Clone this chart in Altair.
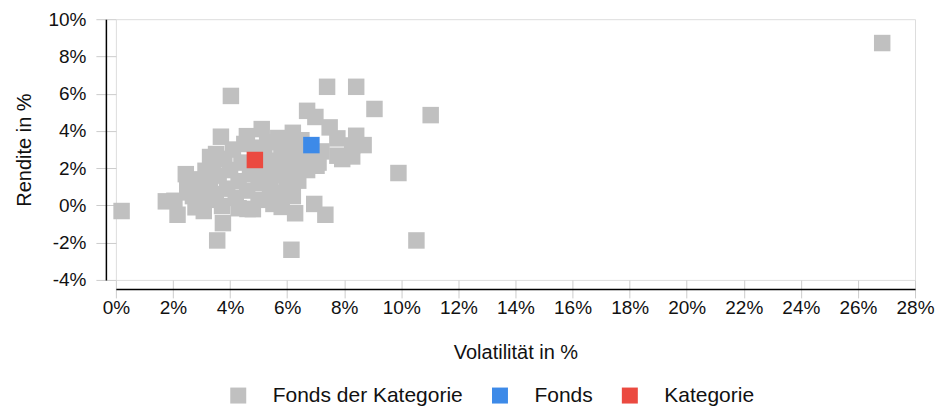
import altair as alt
import pandas as pd

# ---- data (values in %) ----
cat_vol = [26.85, 0.2, 1.75, 2.05, 2.16, 3.55, 3.75, 4.03, 6.15, 6.28,
           6.95, 7.34, 7.4, 8.42, 9.06, 11.03, 9.9, 10.53, 6.7, 6.99,
           7.49, 7.76, 8.42, 8.68, 8.28, 7.76, 7.93, 8.28, 7.03, 6.35,
           5.11, 3.68, 4.59, 5.69, 5.98, 3.51, 2.45, 3.14, 2.79, 3.08,
           3.72, 4.61, 5.52, 5.81, 6.39, 5.75, 2.6, 2.7, 2.9, 3.0,
           3.2, 3.3, 3.4, 3.5, 3.6, 3.8, 3.9, 4.0, 4.1, 4.2,
           4.3, 4.4, 4.5, 4.6, 4.7, 4.9, 5.0, 5.0, 5.1, 5.2,
           5.3, 5.4, 5.5, 5.6, 5.8, 5.9, 6.0, 6.1, 6.2, 6.3,
           6.5, 6.6, 6.7, 6.8, 7.1, 2.5, 2.5, 4.8, 4.3, 6.2,
           6.5, 6.4, 7.2, 5.3, 4.8, 3.3]
cat_ret = [8.72, -0.3, 0.22, 0.25, -0.5, -1.88, -0.95, 5.88, -2.38, -0.42,
           0.08, -0.5, 6.37, 6.37, 5.18, 4.85, 1.74, -1.88, 5.08, 4.75,
           4.19, 3.6, 3.74, 3.24, 3.22, 2.67, 2.49, 2.63, 2.13, 1.6,
           4.1, 3.69, 3.72, 3.62, 3.47, 2.76, 1.68, 1.86, -0.1, -0.3,
           -0.03, -0.19, 0.08, -0.08, 1.33, 0.7, 1.1, 0.5, 1.4, 0.8,
           0.3, 1.2, 2.1, 0.6, 1.6, 2.5, 0.9, 1.9, 3.0, 0.4,
           1.3, 2.3, 3.3, 0.8, 1.7, 3.1, 0.3, 1.2, 2.0, 2.8,
           3.4, 0.9, 1.6, 2.4, 3.0, 1.9, 1.1, 2.6, 0.5, 3.2,
           2.3, 2.9, 1.9, 2.5, 2.3, 0.7, 1.3, -0.2, -0.15, 3.9,
           3.5, 2.0, 2.9, 1.5, 2.2, 2.6]
fonds_vol = [6.85]
fonds_ret = [3.24]
kat_vol = [4.87]
kat_ret = [2.44]

series_names = ["Fonds der Kategorie", "Fonds", "Kategorie"]
series_colors = ["#c0c0c0", "#3d8ae8", "#eb4a40"]

x_ticks = [0, 0.02, 0.04, 0.06, 0.08, 0.10, 0.12, 0.14, 0.16, 0.18, 0.20,
           0.22, 0.24, 0.26, 0.28]
y_ticks = [-0.04, -0.02, 0, 0.02, 0.04, 0.06, 0.08, 0.10]

rows = []
for v, r in zip(cat_vol, cat_ret):
    rows.append({"vol": v / 100, "ret": r / 100, "series": series_names[0]})
for v, r in zip(fonds_vol, fonds_ret):
    rows.append({"vol": v / 100, "ret": r / 100, "series": series_names[1]})
for v, r in zip(kat_vol, kat_ret):
    rows.append({"vol": v / 100, "ret": r / 100, "series": series_names[2]})
df = pd.DataFrame(rows)

FONT = "Liberation Sans"
TXT = "#111111"
x_scale = alt.Scale(domain=[0, 0.28], nice=False, zero=False)
y_scale = alt.Scale(domain=[-0.04, 0.10], nice=False, zero=False)
lbl = "round(datum.value*100) + '%'"

# layer with tick marks only (ticks crossing the offset axis lines)
ticks_layer = alt.Chart(df).mark_square(opacity=0, size=10).encode(
    x=alt.X("vol:Q", scale=x_scale,
            axis=alt.Axis(orient="bottom", values=x_ticks, domain=False, labels=False,
                          ticks=True, tickSize=18, tickColor="#cccccc", tickWidth=1,
                          grid=False, title=None, offset=0)),
    y=alt.Y("ret:Q", scale=y_scale,
            axis=alt.Axis(orient="left", values=y_ticks, domain=False, labels=False,
                          ticks=True, tickSize=20, tickColor="#cccccc", tickWidth=1,
                          grid=False, title=None, offset=0)),
)

points = alt.Chart(df).mark_square(size=272, opacity=1, strokeWidth=0).encode(
    x=alt.X("vol:Q", scale=x_scale,
            axis=alt.Axis(orient="bottom", values=x_ticks, domain=True, domainColor="#000000",
                          domainWidth=1.5, ticks=False, tickSize=0, labelExpr=lbl,
                          labelFlush=False, labelOverlap=False, labelBound=False,
                          labelPadding=10, labelFontSize=19, labelColor=TXT, labelFont=FONT,
                          grid=False, offset=9, title="Volatilität in %",
                          titleFontSize=20, titleFontWeight="normal", titleColor=TXT,
                          titleFont=FONT, titlePadding=25)),
    y=alt.Y("ret:Q", scale=y_scale,
            axis=alt.Axis(orient="left", values=y_ticks, domain=True, domainColor="#000000",
                          domainWidth=1.5, ticks=False, tickSize=0, labelExpr=lbl,
                          labelFlush=False, labelOverlap=False, labelBound=False,
                          labelPadding=20, labelFontSize=19, labelColor=TXT, labelFont=FONT,
                          grid=False, offset=10, title="Rendite in %",
                          titleFontSize=20, titleFontWeight="normal", titleColor=TXT,
                          titleFont=FONT, titlePadding=13)),
    color=alt.Color("series:N",
                    scale=alt.Scale(domain=series_names, range=series_colors),
                    legend=alt.Legend(orient="none", legendX=112, legendY=366,
                                      direction="horizontal", title=None,
                                      symbolType="square", symbolSize=256,
                                      symbolStrokeWidth=0, symbolOpacity=1,
                                      labelFontSize=21, labelFont=FONT, labelColor=TXT,
                                      labelLimit=400, labelOffset=24, columnPadding=26)),
)

chart = alt.layer(ticks_layer, points).resolve_axis(
    x="independent", y="independent"
).properties(
    width=800, height=261,
    padding={"left": 6, "top": 2, "right": 0, "bottom": 0},
).configure_view(stroke=None).configure(font=FONT)

chart.save("out.html", embed_options={"renderer": "svg", "actions": False})
